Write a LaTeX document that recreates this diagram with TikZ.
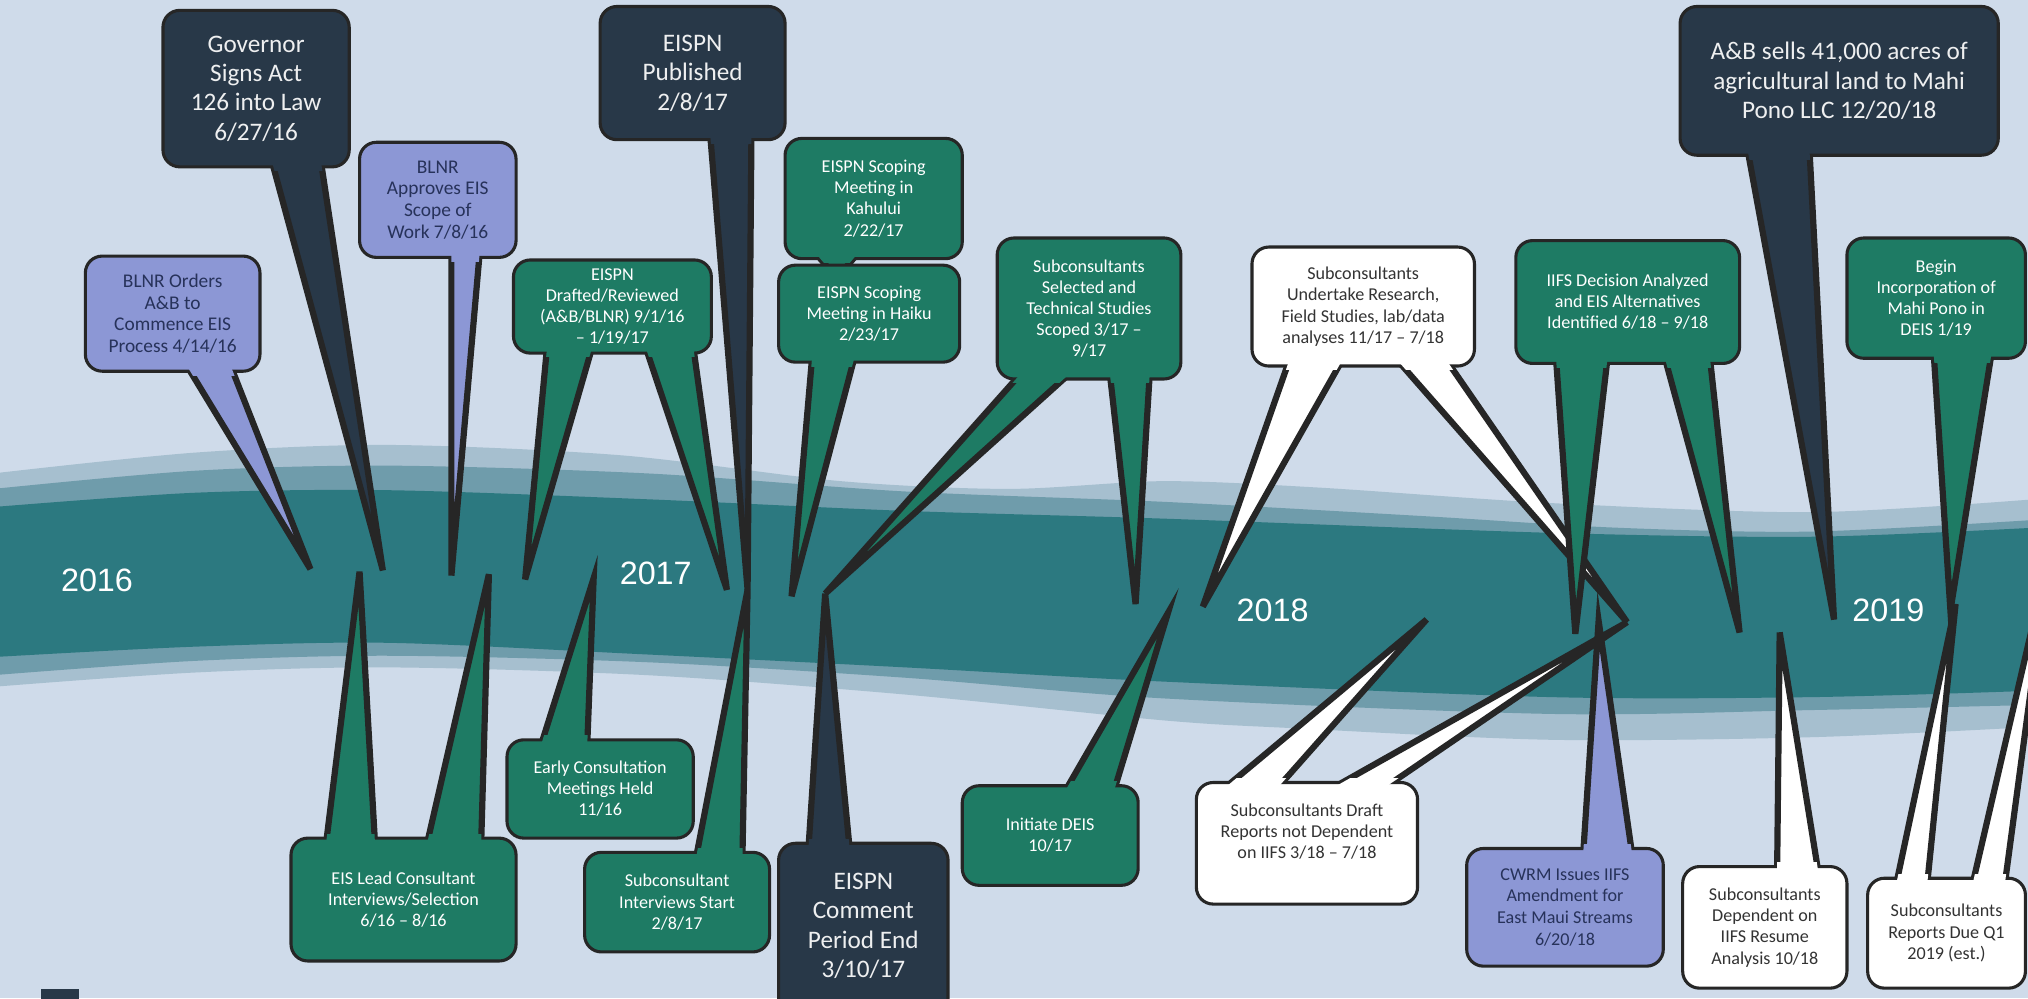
\documentclass[tikz,border=0pt]{standalone}
\usepackage{fontspec}
\setmainfont{Carlito}
\newfontfamily\yearfont{Liberation Sans}
\usetikzlibrary{calc}

\definecolor{paper}{HTML}{CFDBEA}
\definecolor{bandlight}{HTML}{A6BFCF}
\definecolor{bandmid}{HTML}{6F9CAB}
\definecolor{bandcore}{HTML}{2C7980}
\definecolor{navy}{HTML}{283848}
\definecolor{grn}{HTML}{1E7B64}
\definecolor{lav}{HTML}{8C97D5}
\definecolor{lavtext}{HTML}{27325A}

\pgfdeclarelayer{bg}
\pgfdeclarelayer{back}
\pgfdeclarelayer{front}
\pgfsetlayers{bg,back,main,front}

% colour/box/edge/shift/left/right/tip
\def\taillist{lav/ordr/south/-5/144/178/t-ordr,
  navy/gov/south/-5/210/248/t-gov,
  lav/apprv/south/-5/349/371/t-apprv,
  grn/lead/north/5/252/290/t-lead1,
  grn/lead/north/5/330/372/t-lead2,
  grn/draft/south/-5/423/458/t-draft1,
  grn/draft/south/-5/499/536/t-draft2,
  grn/early/north/5/418/454/t-early,
  navy/publ/south/-5/549/581/t-publ,
  grn/intv/north/5/538/574/t-publ,
  grn/kahu/south/-5/630/664/t-kahu,
  grn/haiku/south/-5/628/661/t-haiku,
  navy/cmt/north/5/625/657/t-cmt,
  grn/sel/south/-5/790/828/t-cmt,
  grn/sel/south/-5/858/889/t-sel,
  grn/deis/north/5/823/861/t-deis,
  white/undt/south/-5/997/1038/t-undt,
  white/undt/south/-5/1080/1118/t-fork,
  white/rpt/north/5/946/987/t-rpt,
  white/rpt/north/5/1029/1069/t-fork,
  grn/iifs/south/-5/1203/1243/t-iifs1,
  grn/iifs/south/-5/1287/1322/t-iifs2,
  lav/cwrm/north/5/1224/1262/t-cwrm,
  navy/sale/south/-5/1351/1399/t-sale,
  white/dep/north/5/1374/1406/t-dep,
  grn/begin/south/-5/1495/1540/t-begin,
  white/due/north/5/1466/1490/t-due1,
  white/due/north/5/1525/1550/t-due2}

\begin{document}
\begin{tikzpicture}[x=1pt, y=-1pt,
    box/.style={draw=black!85, line width=2.4pt, rounded corners=13pt, align=center, inner sep=0pt, outer sep=0pt},
    navybox/.style={box, fill=navy, text=white!92!navy, font=\fontsize{19.5}{22.8}\selectfont},
    grnbox/.style={box, fill=grn, text=white, font=\fontsize{14}{16.3}\selectfont},
    lavbox/.style={box, fill=lav, text=lavtext, font=\fontsize{15}{16.8}\selectfont},
    whtbox/.style={box, fill=white, text=black!80, font=\fontsize{14}{16.5}\selectfont},
    yearlabel/.style={text=white, font=\yearfont\fontsize{25}{25}\selectfont}]
  \useasboundingbox (0,0) rectangle (1568,772);

  % background and band
  \begin{pgfonlayer}{bg}
    \fill [paper] (0,0) rectangle (1568,772);
    \fill [bandlight] plot [smooth] coordinates {(-5,366) (150,350) (300,344) (480,352) (650,372) (780,378) (900,372) (1020,377) (1200,389) (1400,396) (1573,386)}
      -- plot [smooth] coordinates {(1573,562) (1400,570) (1200,572) (1000,563) (900,557) (700,537) (500,522) (300,516) (150,520) (-5,531)} -- cycle;
    \fill [bandmid] plot [smooth] coordinates {(-5,378) (150,364) (300,360) (500,366) (700,380) (900,388) (1100,399) (1250,408) (1400,411) (1573,402)}
      -- plot [smooth] coordinates {(1573,545) (1400,549) (1200,552) (900,540) (700,524) (500,512) (300,507) (150,511) (-5,522)} -- cycle;
    \fill [bandcore] plot [smooth] coordinates {(-5,392) (150,381) (300,379) (500,386) (700,395) (900,401) (1200,412) (1400,415) (1573,408)}
      -- plot [smooth] coordinates {(1573,534) (1400,539) (1200,539) (900,527) (700,516) (500,506) (300,497) (150,500) (-5,508)} -- cycle;
    \fill [navy] (32,765) rectangle (61,780);
  \end{pgfonlayer}

  % years
  \node [yearlabel] (y2016) at (75,449) {2016};
  \node [yearlabel] (y2017) at (507,443) {2017};
  \node [yearlabel] (y2018) at (984,472) {2018};
  \node [yearlabel] (y2019) at (1460,472) {2019};

  % boxes
  \node [lavbox, minimum width=135pt, minimum height=89pt] (ordr) at (133.5,242.5) {BLNR Orders\\A\&B to\\Commence EIS\\Process 4/14/16};
  \node [navybox, minimum width=144pt, minimum height=121pt] (gov) at (198,68.5) {Governor\\Signs Act\\126 into Law\\6/27/16};
  \node [lavbox, minimum width=121pt, minimum height=89pt] (apprv) at (338.5,154.5) {BLNR\\Approves EIS\\Scope of\\Work 7/8/16};
  \node [grnbox, minimum width=174pt, minimum height=95pt] (lead) at (312,695.5) {EIS Lead Consultant\\Interviews/Selection\\6/16 – 8/16};
  \node [grnbox, minimum width=153pt, minimum height=72pt] (draft) at (473.5,237) {EISPN\\Drafted/Reviewed\\(A\&B/BLNR) 9/1/16\\– 1/19/17};
  \node [grnbox, minimum width=144pt, minimum height=76pt] (early) at (464,610) {Early Consultation\\Meetings Held\\11/16};
  \node [navybox, minimum width=143pt, minimum height=103pt] (publ) at (535.5,56.5) {EISPN\\Published\\2/8/17};
  \node [grnbox, minimum width=143pt, minimum height=77pt] (intv) at (523.5,697.5) {Subconsultant\\Interviews Start\\2/8/17};
  \node [grnbox, minimum width=137pt, minimum height=93pt] (kahu) at (675.5,153.5) {EISPN Scoping\\Meeting in\\Kahului\\2/22/17};
  \node [grnbox, minimum width=140pt, minimum height=75pt] (haiku) at (672,242.5) {EISPN Scoping\\Meeting in Haiku\\2/23/17};
  \node [navybox, minimum width=131pt, minimum height=158pt] (cmt) at (667.5,731) {};
  \node [text=white!92!navy, align=center, font=\fontsize{19.5}{22.8}\selectfont] (cmttext) at (667.5,716) {EISPN\\Comment\\Period End\\3/10/17};
  \node [grnbox, minimum width=142pt, minimum height=109pt] (sel) at (842,238.5) {Subconsultants\\Selected and\\Technical Studies\\Scoped 3/17 –\\9/17};
  \node [grnbox, minimum width=136pt, minimum height=77pt] (deis) at (812,646) {Initiate DEIS\\10/17};
  \node [whtbox, minimum width=172pt, minimum height=92pt] (undt) at (1054,237) {Subconsultants\\Undertake Research,\\Field Studies, lab/data\\analyses 11/17 – 7/18};
  \node [whtbox, minimum width=171pt, minimum height=94pt] (rpt) at (1010.5,652) {};
  \node [text=black!80, align=center, font=\fontsize{14}{16.5}\selectfont] (rpttext) at (1010.5,643) {Subconsultants Draft\\Reports not Dependent\\on IIFS 3/18 – 7/18};
  \node [grnbox, minimum width=173pt, minimum height=95pt] (iifs) at (1258.5,233.5) {IIFS Decision Analyzed\\and EIS Alternatives\\Identified 6/18 – 9/18};
  \node [lavbox, minimum width=152pt, minimum height=91pt, font=\fontsize{14}{16.8}\selectfont] (cwrm) at (1210,701.5) {CWRM Issues IIFS\\Amendment for\\East Maui Streams\\6/20/18};
  \node [navybox, minimum width=246pt, minimum height=115pt] (sale) at (1422,62.5) {A\&B sells 41,000 acres of\\agricultural land to Mahi\\Pono LLC 12/20/18};
  \node [whtbox, minimum width=127pt, minimum height=94pt] (dep) at (1364.5,717) {Subconsultants\\Dependent on\\IIFS Resume\\Analysis 10/18};
  \node [grnbox, minimum width=138pt, minimum height=93pt] (begin) at (1497,230.5) {Begin\\Incorporation of\\Mahi Pono in\\DEIS 1/19};
  \node [whtbox, minimum width=122pt, minimum height=85pt] (due) at (1505,721.5) {Subconsultants\\Reports Due Q1\\2019 (est.)};

  % tail tips
  \coordinate (t-ordr) at (240,440);
  \coordinate (t-gov) at (296,441);
  \coordinate (t-apprv) at (349,445);
  \coordinate (t-lead1) at (278,442);
  \coordinate (t-lead2) at (378,444);
  \coordinate (t-draft1) at (406,448);
  \coordinate (t-draft2) at (562,456);
  \coordinate (t-early) at (459,447);
  \coordinate (t-publ) at (578,456);
  \coordinate (t-kahu) at (647,215);
  \coordinate (t-haiku) at (612,461);
  \coordinate (t-cmt) at (638,459);
  \coordinate (t-sel) at (878,467);
  \coordinate (t-deis) at (903,474);
  \coordinate (t-undt) at (930,469);
  \coordinate (t-fork) at (1258,481);
  \coordinate (t-rpt) at (1103,479);
  \coordinate (t-iifs1) at (1218,490);
  \coordinate (t-iifs2) at (1345,489);
  \coordinate (t-cwrm) at (1236,480);
  \coordinate (t-sale) at (1418,479);
  \coordinate (t-dep) at (1376,489);
  \coordinate (t-begin) at (1508,472);
  \coordinate (t-due1) at (1512,467);
  \coordinate (t-due2) at (1584,430);

  % tails: outline behind the boxes, fill again on top to join them
  \begin{pgfonlayer}{back}
    \foreach \col/\bx/\side/\dy/\xa/\xb/\tip in \taillist
      \filldraw [fill=\col, draw=black!85, line width=4.8pt]
        ($(\xa,0 |- \bx.\side)+(0,\dy)$) -- (\tip) -- ($(\xb,0 |- \bx.\side)+(0,\dy)$) -- cycle;
  \end{pgfonlayer}
  \begin{pgfonlayer}{front}
    \foreach \col/\bx/\side/\dy/\xa/\xb/\tip in \taillist {
      \begin{scope}
        \clip ($(\bx.south west)+(-3,3)$) rectangle ($(\bx.north east)+(3,-3)$);
        \fill [\col] ($(\xa,0 |- \bx.\side)+(0,\dy)$) -- (\tip) -- ($(\xb,0 |- \bx.\side)+(0,\dy)$) -- cycle;
      \end{scope}
    }
  \end{pgfonlayer}
\end{tikzpicture}
\end{document}
